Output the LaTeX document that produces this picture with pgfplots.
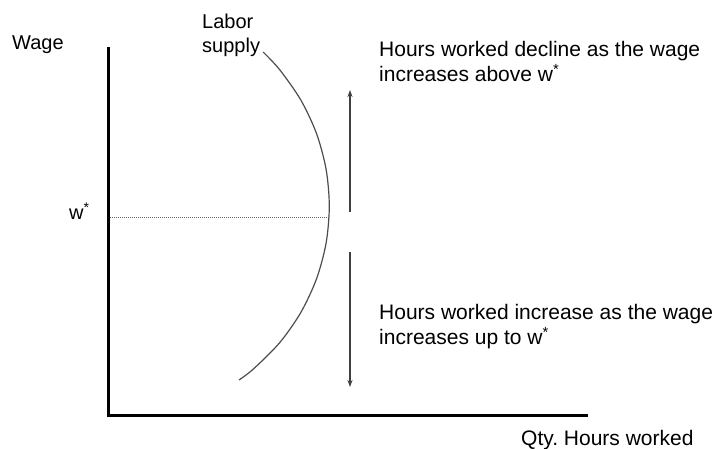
\documentclass[border=0pt]{standalone}
\usepackage{pgfplots}
\pgfplotsset{compat=1.18}
\usepackage{fontspec}
\setmainfont{Liberation Sans}
\usetikzlibrary{arrows.meta}
\begin{document}
\frenchspacing
\begin{tikzpicture}
\begin{axis}[name=ax, scale only axis, width=717bp, height=449bp,
  xmin=0, xmax=717, ymin=-449, ymax=0, hide axis, clip=false]
% axes
\addplot[black, line width=3bp, line join=miter] coordinates {(108,-47) (108,-416) (588,-416)};
% labor supply curve
\addplot[black!70, line width=1.2bp, smooth, tension=0.5] coordinates {
(263.1,-52.0) (279.6,-69.6) (300.8,-100.0) (316.5,-133.5) (326.1,-169.3)
(329.3,-206.2) (326.1,-243.1) (316.5,-278.9) (300.8,-312.5) (279.6,-342.8)
(253.4,-369.0) (239.0,-380.0)};
% dotted w*
\addplot[black!60, line width=0.8bp, dash pattern=on 1bp off 1bp] coordinates {(110,-217) (329,-217)};
% arrows
\addplot[-{Stealth[length=7bp,width=5bp]}, line width=1.3bp, black!75] coordinates {(350,-212) (350,-90)};
\addplot[-{Stealth[length=7bp,width=5bp]}, line width=1.3bp, black!75] coordinates {(350,-252) (350,-387)};
% texts
\node[anchor=base west, inner sep=0pt, font=\fontsize{20bp}{24bp}\selectfont] at (axis cs:12,-50) {Wage};
\node[anchor=base west, inner sep=0pt, font=\fontsize{20bp}{24bp}\selectfont] at (axis cs:202,-29) {Labor};
\node[anchor=base west, inner sep=0pt, font=\fontsize{20bp}{24bp}\selectfont] at (axis cs:202,-53) {supply};
\node[anchor=base west, inner sep=0pt, font=\fontsize{20bp}{24bp}\selectfont] at (axis cs:69,-220) {w\textsuperscript{*}};
\node[anchor=base west, inner sep=0pt, font=\fontsize{21bp}{25bp}\selectfont] at (axis cs:379,-57) {Hours worked decline as the wage};
\node[anchor=base west, inner sep=0pt, font=\fontsize{21bp}{25bp}\selectfont] at (axis cs:379,-82) {increases above w\textsuperscript{*}};
\node[anchor=base west, inner sep=0pt, font=\fontsize{21bp}{25bp}\selectfont] at (axis cs:379,-320) {Hours worked increase as the wage};
\node[anchor=base west, inner sep=0pt, font=\fontsize{21bp}{25bp}\selectfont] at (axis cs:379,-345) {increases up to w\textsuperscript{*}};
\node[anchor=base west, inner sep=0pt, font=\fontsize{21bp}{25bp}\selectfont] at (axis cs:521,-445) {Qty.\ Hours worked};
\end{axis}
\pgfresetboundingbox
\path (ax.south west) rectangle (ax.north east);
\end{tikzpicture}
\end{document}
